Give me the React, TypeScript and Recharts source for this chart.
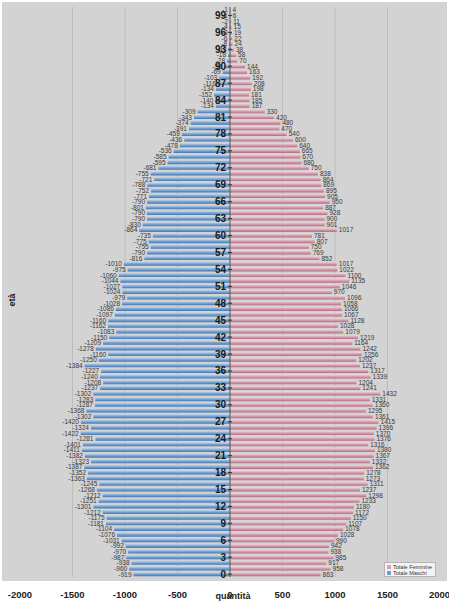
import { BarChart, Bar, XAxis, YAxis, CartesianGrid, ReferenceLine, LabelList } from 'recharts';

// età 0..100
const AGES = Array.from({ length: 101 }, (_, i) => i);

// Totale Maschi (negativi: lato sinistro)
const MALE = [
  -919, -960, -938, -987, -970, -992, -1031, -1076, -1104, -1181,
  -1175, -1212, -1301, -1251, -1212, -1268, -1245, -1363, -1352, -1387,
  -1323, -1382, -1411, -1401, -1281, -1422, -1324, -1420, -1302, -1368,
  -1287, -1283, -1302, -1237, -1208, -1240, -1227, -1384, -1250, -1160,
  -1278, -1209, -1150, -1083, -1162, -1160, -1097, -1086, -1028, -979,
  -1024, -1027, -1044, -1060, -975, -1010, -816, -790, -755, -775,
  -735, -864, -830, -790, -790, -801, -790, -771, -752, -788,
  -721, -755, -681, -595, -585, -536, -478, -436, -459, -391,
  -374, -343, -309, -134, -140, -152, -134, -116, -103, -69,
  -58, -28, -18, -13, -8, -6, -3, -4, -2, -1, -1,
];

// Totale Femmine
const FEMALE = [
  863, 958, 917, 985, 938, 942, 990, 1028, 1078, 1107,
  1150, 1172, 1180, 1233, 1298, 1237, 1311, 1273, 1278, 1362,
  1332, 1367, 1380, 1316, 1376, 1370, 1396, 1415, 1361, 1295,
  1360, 1331, 1432, 1241, 1204, 1339, 1317, 1237, 1202, 1256,
  1242, 1164, 1219, 1079, 1028, 1128, 1067, 1066, 1058, 1096,
  970, 1046, 1135, 1100, 1022, 1017, 852, 769, 750, 807,
  781, 1017, 901, 900, 928, 887, 950, 905, 895, 869,
  864, 838, 750, 680, 670, 665, 640, 600, 540, 470,
  480, 420, 330, 187, 185, 181, 198, 208, 192, 163,
  144, 70, 58, 38, 24, 22, 19, 15, 11, 6, 4,
];

const X_TICKS = [-2000, -1500, -1000, -500, 0, 500, 1000, 1500, 2000];
const GRID_X = [-1500, -1000, -500, 500, 1000, 1500];
const AGE_STEP = 3;

const W = 449;
const H = 601;
const MARGIN = { top: 7, right: 9, bottom: 0, left: 20 };
const ZERO_X = MARGIN.left + (W - MARGIN.left - MARGIN.right) / 2;
const FONT = '"Liberation Sans", Arial, sans-serif';

const rows = AGES.map((age, i) => ({ age, maschi: MALE[i], femmine: FEMALE[i] }));

function box(props: any) {
  const vb = props.viewBox ?? props;
  const x = Number(vb.x), w = Number(vb.width);
  return { left: Math.min(x, x + w), right: Math.max(x, x + w), cy: Number(vb.y) + Number(vb.height) / 2 };
}

function MaleLabel(props: any) {
  const b = box(props);
  return (
    <text x={b.left - 2} y={b.cy} textAnchor="end" dominantBaseline="central"
      fontSize={6.5} fill="#3a3a3a" fontFamily={FONT}>
      {props.value}
    </text>
  );
}

function FemaleLabel(props: any) {
  const b = box(props);
  return (
    <text x={b.right + 2} y={b.cy} textAnchor="start" dominantBaseline="central"
      fontSize={6.5} fill="#3a3a3a" fontFamily={FONT}>
      {props.value}
    </text>
  );
}

// etichette dell'asse età, sopra le barre accanto allo zero
function AgeLabel(props: any) {
  if (Number(props.value) % AGE_STEP !== 0) return null;
  const b = box(props);
  return (
    <g>
      <line x1={ZERO_X - 2} x2={ZERO_X + 2} y1={b.cy} y2={b.cy} stroke="#333" />
      <text x={ZERO_X - 4} y={b.cy} textAnchor="end" dominantBaseline="central"
        fontSize={10} fontWeight="bold" fill="#1a1a1a" fontFamily={FONT}>
        {props.value}
      </text>
    </g>
  );
}

function LegendBox() {
  const items = [
    { name: 'Totale Femmine', color: '#d9a3b3' },
    { name: 'Totale Maschi', color: '#6f9fd0' },
  ];
  return (
    <div style={{
      position: 'absolute', left: 384, top: 562, width: 52, height: 15,
      background: '#f3f3f3', border: '1px solid #b5b5b5', padding: '1px 2px',
      boxSizing: 'border-box', fontFamily: FONT,
    }}>
      {items.map((it) => (
        <div key={it.name} style={{ display: 'flex', alignItems: 'center', gap: 2, height: 6, whiteSpace: 'nowrap' }}>
          <span style={{ width: 4, height: 4, background: it.color, display: 'inline-block', flexShrink: 0 }} />
          <span style={{ fontSize: 5.5, color: '#333', lineHeight: '6px' }}>{it.name}</span>
        </div>
      ))}
    </div>
  );
}

export default function App() {
  return (
    <div style={{ position: 'absolute', left: 0, top: 0, width: W, height: H, background: '#fff' }}>
      <div style={{ position: 'absolute', left: 2, top: 2, width: 445, height: 579, background: '#d3d3d3' }} />
      <div style={{ position: 'absolute', left: 0, top: 0 }}>
        <BarChart
          width={W}
          height={H}
          data={rows}
          layout="vertical"
          stackOffset="sign"
          margin={MARGIN}
          barCategoryGap="14%"
        >
          <defs>
            <linearGradient id="gM" x1="0" y1="0" x2="0" y2="1">
              <stop offset="0%" stopColor="#c4d8ee" />
              <stop offset="45%" stopColor="#7fa8d4" />
              <stop offset="100%" stopColor="#4677b0" />
            </linearGradient>
            <linearGradient id="gF" x1="0" y1="0" x2="0" y2="1">
              <stop offset="0%" stopColor="#f1d6dd" />
              <stop offset="45%" stopColor="#d9a3b3" />
              <stop offset="100%" stopColor="#b06f85" />
            </linearGradient>
          </defs>
          <CartesianGrid horizontal={false} verticalValues={GRID_X} stroke="#bcbcbc" />
          <XAxis
            type="number"
            domain={[-2000, 2000]}
            ticks={X_TICKS}
            height={24}
            tickLine={false}
            axisLine={false}
            tickMargin={8}
            tick={{ fontSize: 9.5, fill: '#222', fontWeight: 'bold', fontFamily: FONT }}
          />
          <YAxis
            type="category"
            dataKey="age"
            reversed
            width={0}
            tick={false}
            axisLine={false}
            tickLine={false}
          />
          <Bar dataKey="femmine" name="Totale Femmine" stackId="p" fill="url(#gF)" isAnimationActive={false}>
            <LabelList dataKey="femmine" content={<FemaleLabel />} />
          </Bar>
          <Bar dataKey="maschi" name="Totale Maschi" stackId="p" fill="url(#gM)" isAnimationActive={false}>
            <LabelList dataKey="maschi" content={<MaleLabel />} />
            <LabelList dataKey="age" content={<AgeLabel />} />
          </Bar>
          <ReferenceLine x={0} stroke="#555" />
        </BarChart>
      </div>
      <div style={{
        position: 'absolute', left: 5, top: 300, transform: 'translate(0, -50%) rotate(-90deg)',
        fontFamily: FONT, fontSize: 9, fontWeight: 'bold', color: '#222',
      }}>età</div>
      <div style={{
        position: 'absolute', left: 233, top: 592, transform: 'translateX(-50%)',
        fontFamily: FONT, fontSize: 9, fontWeight: 'bold', color: '#222', lineHeight: '9px',
      }}>quantità</div>
      <LegendBox />
    </div>
  );
}
